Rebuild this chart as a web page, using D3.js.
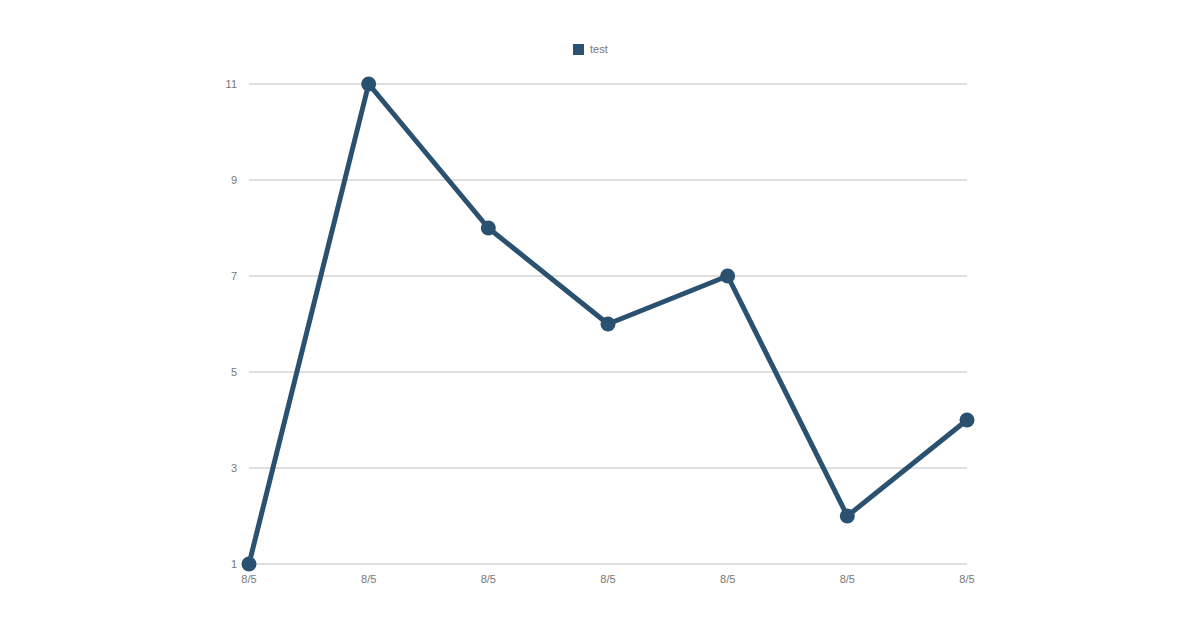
<!DOCTYPE html>
<html><head><meta charset="utf-8">
<script src="https://cdn.jsdelivr.net/npm/d3@7"></script>
<style>body{margin:0;background:#fff}svg{display:block}</style>
</head><body>
<svg id="c" width="1200" height="627"></svg>
<script>
const categories = ["8/5","8/5","8/5","8/5","8/5","8/5","8/5"];
const values = [1,11,8,6,7,2,4];
const yTicks = [1,3,5,7,9,11];
const seriesName = "test";
const color = "#2a5170";

const svg = d3.select("#c");
const x = d3.scalePoint().domain(d3.range(categories.length)).range([249,967]);
const y = d3.scaleLinear().domain([1,11]).range([564,84]);
const font = "Arial, 'Liberation Sans', sans-serif";

svg.append("g").selectAll("line").data(yTicks).join("line")
  .attr("x1",249).attr("x2",967).attr("y1",d=>y(d)).attr("y2",d=>y(d))
  .attr("stroke","#c0c0c0").attr("stroke-width",1);
svg.append("g").selectAll("text").data(yTicks).join("text")
  .attr("x",237).attr("y",d=>y(d)+4).attr("text-anchor","end")
  .attr("font-family",font).attr("font-size",11).attr("fill","#777").text(d=>d);
svg.append("g").selectAll("text").data(categories).join("text")
  .attr("x",(d,i)=>x(i)).attr("y",583).attr("text-anchor","middle")
  .attr("font-family",font).attr("font-size",11).attr("fill","#777").text(d=>d);

svg.append("path").datum(values)
  .attr("d",d3.line().x((d,i)=>x(i)).y(d=>y(d)))
  .attr("fill","none").attr("stroke",color).attr("stroke-width",5).attr("stroke-linejoin","round");
svg.append("g").selectAll("circle").data(values).join("circle")
  .attr("cx",(d,i)=>x(i)).attr("cy",d=>y(d)).attr("r",7.5).attr("fill",color);

svg.append("rect").attr("x",573).attr("y",44).attr("width",11).attr("height",11).attr("fill",color);
svg.append("text").attr("x",590).attr("y",53).attr("font-family",font).attr("font-size",11)
  .attr("fill","#777").text(seriesName);
</script>
</body></html>
